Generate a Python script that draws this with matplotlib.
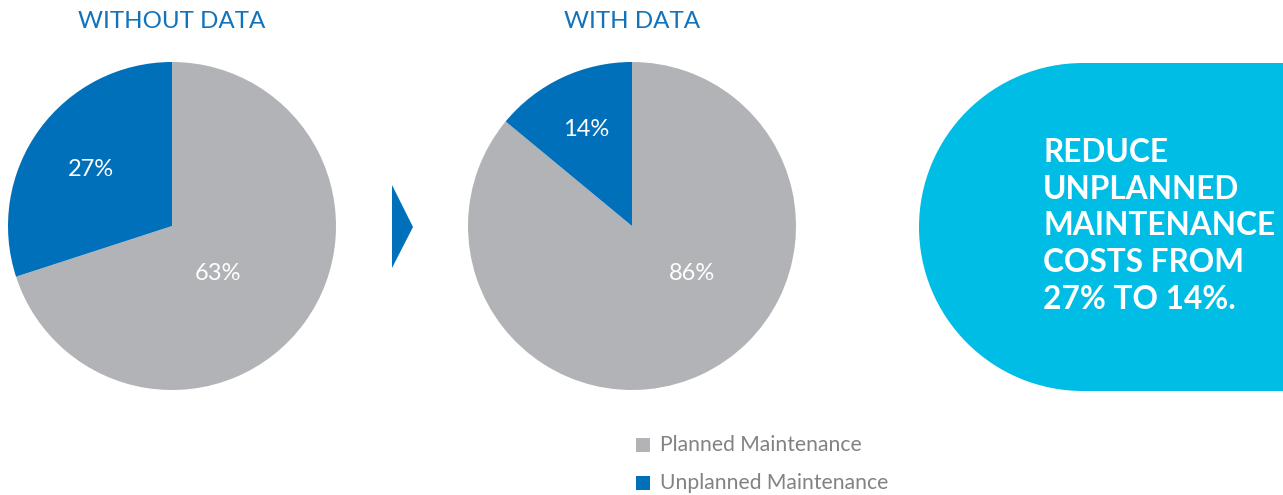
import matplotlib
matplotlib.use("Agg")
import matplotlib.pyplot as plt
from matplotlib.patches import Wedge, Rectangle, Polygon

categories = ["Planned Maintenance", "Unplanned Maintenance"]
without_data = [63, 27]
with_data = [86, 14]
titles = ["WITHOUT DATA", "WITH DATA"]
callout = "REDUCE\nUNPLANNED\nMAINTENANCE\nCOSTS FROM\n27% TO 14%."

GREY = "#B1B3B6"
BLUE = "#0070BA"
CYAN = "#00BDE6"
TITLE_BLUE = "#1272BA"
W, H = 1283, 495

plt.rcParams['font.family'] = ['Lato', 'DejaVu Sans']

fig = plt.figure(figsize=(W / 100, H / 100), dpi=100)
ax = fig.add_axes([0, 0, 1, 1])

def Y(y):
    return H - y

R = 164
pies = [
    dict(vals=without_data, center=(172, Y(226)), title=titles[0], title_x=172,
         label_pos=[(218, 273), (91, 170)]),
    dict(vals=with_data, center=(632, Y(226)), title=titles[1], title_x=632,
         label_pos=[(692, 273), (586, 130)]),
]

for p in pies:
    wedges, _ = ax.pie(p["vals"], colors=[GREY, BLUE], startangle=90, counterclock=False,
                       center=p["center"], radius=R, frame=True,
                       wedgeprops=dict(linewidth=0))
    for v, (lx, ly) in zip(p["vals"], p["label_pos"]):
        ax.text(lx, Y(ly), f"{v}%", color="white", fontsize=17, ha="center", va="center")
    ax.text(p["title_x"], Y(21), p["title"], color=TITLE_BLUE, fontsize=17.4,
            ha="center", va="center")

ax.set_xlim(0, W)
ax.set_ylim(0, H)
ax.set_aspect('equal')
ax.axis('off')

# arrow
ax.add_patch(Polygon([(392, Y(185)), (413, Y(227)), (392, Y(268))], closed=True,
                     facecolor=BLUE, edgecolor='none'))

# callout shape
cx, cy, cr = 1083, Y(227), 164
ax.add_patch(Wedge((cx, cy), cr, 90, 270, facecolor=CYAN, edgecolor='none'))
ax.add_patch(Rectangle((cx - 1, cy - cr), W - cx + 10, 2 * cr, facecolor=CYAN, edgecolor='none'))
ax.text(1043, Y(138), callout, color="white", fontsize=22.8, fontweight="bold",
        ha="left", va="top", linespacing=1.32)

# legend
for i, (cat, col) in enumerate(zip(categories, [GREY, BLUE])):
    yy = 445 + i * 38
    ax.add_patch(Rectangle((636, Y(yy) - 7), 14, 14, facecolor=col, edgecolor='none'))
    ax.text(660, Y(yy), cat, color="#808285", fontsize=15.2, ha="left", va="center")

fig.savefig("out.png", dpi=100)
